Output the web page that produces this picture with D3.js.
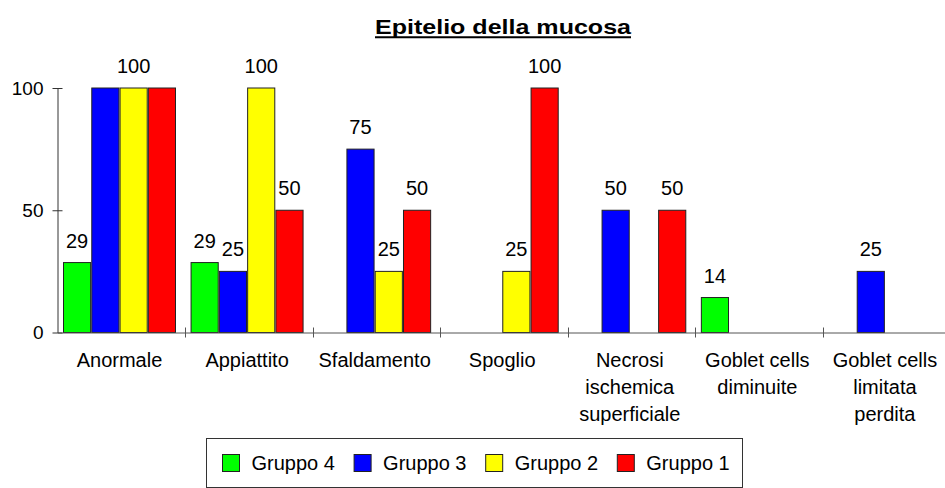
<!DOCTYPE html>
<html>
<head>
<meta charset="utf-8">
<script src="https://cdn.jsdelivr.net/npm/d3@7"></script>
<style>
	body { margin: 0; background: #fff; }
	text { font-family: Arial, "Liberation Sans", sans-serif; fill: #000; }
</style>
</head>
<body>
<div id="chart"></div>
<script>
var categories = ["Anormale", "Appiattito", "Sfaldamento", "Spoglio", "Necrosi ischemica superficiale", "Goblet cells diminuite", "Goblet cells limitata perdita"];
var categoryLines = [["Anormale"], ["Appiattito"], ["Sfaldamento"], ["Spoglio"], ["Necrosi", "ischemica", "superficiale"], ["Goblet cells", "diminuite"], ["Goblet cells", "limitata", "perdita"]];
var groups = ["Gruppo 4", "Gruppo 3", "Gruppo 2", "Gruppo 1"];
var colors = ["#00ff00", "#0000ff", "#ffff00", "#ff0000"];

var gruppo4 = [28.6, 28.6, 0, 0, 0, 14.3, 0];
var gruppo3 = [100, 25, 75, 0, 50, 0, 25];
var gruppo2 = [100, 100, 25, 25, 0, 0, 0];
var gruppo1 = [100, 50, 50, 100, 50, 0, 0];

var yTicks = [0, 50, 100];
// the original only shows one "100" above Anormale
var hiddenLabels = ["Anormale|Gruppo 3", "Anormale|Gruppo 1"];

(function() {
	var width = 945;
	var height = 488;

	var svg = d3.select("#chart")
				.append("svg")
				.attr("width", width)
				.attr("height", height)

	var series = [gruppo4, gruppo3, gruppo2, gruppo1];

	var rows = categories.map(function(c, i) {
		return {
			cat: c,
			values: groups.map(function(g, j) {
				return { cat: c, group: g, value: series[j][i] };
			})
		};
	});

	var x0 = d3.scaleBand()
			   .domain(categories)
			   .range([57.5, 950.5])

	var x1 = d3.scaleBand()
			   .domain(groups)
			   .range([6, 118])
			   .paddingInner(0.04)

	var y = d3.scaleLinear()
			  .domain([0, 100])
			  .range([332.5, 88])

	var color = d3.scaleOrdinal()
				  .domain(groups)
				  .range(colors)

	var fmt = d3.format(".0f");

	// title
	svg.append("text")
	   .attr("x", 503)
	   .attr("y", 33.5)
	   .attr("text-anchor", "middle")
	   .attr("font-size", 21)
	   .attr("font-weight", "bold")
	   .attr("textLength", 256)
	   .attr("lengthAdjust", "spacingAndGlyphs")
	   .text("Epitelio della mucosa")

	svg.append("line")
	   .attr("x1", 375)
	   .attr("x2", 631)
	   .attr("y1", 37.3)
	   .attr("y2", 37.3)
	   .attr("stroke", "#000")
	   .attr("stroke-width", 2)

	// bars
	var groupsG = svg.selectAll("g.cat")
					 .data(rows)
					 .enter()
					 .append("g")
					 .attr("class", "cat")
					 .attr("transform", function(d) { return "translate(" + x0(d.cat) + ",0)"; })

	groupsG.selectAll("rect")
		   .data(function(d) { return d.values.filter(function(v) { return v.value > 0; }); })
		   .enter()
		   .append("rect")
		   .attr("x", function(d) { return x1(d.group); })
		   .attr("y", function(d) { return y(d.value); })
		   .attr("width", x1.bandwidth())
		   .attr("height", function(d) { return y(0) - y(d.value); })
		   .attr("fill", function(d) { return color(d.group); })
		   .attr("stroke", "#222")
		   .attr("stroke-width", 1)

	groupsG.selectAll("text.val")
		   .data(function(d) {
				return d.values.filter(function(v) {
					return v.value > 0 && hiddenLabels.indexOf(v.cat + "|" + v.group) < 0;
				});
		   })
		   .enter()
		   .append("text")
		   .attr("class", "val")
		   .attr("x", function(d) { return x1(d.group) + x1.bandwidth() / 2; })
		   .attr("y", function(d) { return y(d.value) - 15; })
		   .attr("text-anchor", "middle")
		   .attr("font-size", 20)
		   .text(function(d) { return fmt(d.value); })

	// y axis
	var yAxis = d3.axisLeft(y)
				  .tickValues(yTicks)
				  .tickSizeInner(5)
				  .tickSizeOuter(0)
				  .tickPadding(9)

	var yG = svg.append("g")
				.attr("transform", "translate(57.5,0)")
				.call(yAxis)

	yG.attr("font-size", 19)
	  .attr("font-family", null)
	yG.select(".domain").attr("stroke", "#333")
	yG.selectAll(".tick line").attr("x1", 5).attr("stroke", "#333")
	yG.selectAll(".tick text").attr("fill", "#000")

	// x axis
	var xAxis = d3.axisBottom(x0)
				  .tickSize(0)
				  .tickFormat("")

	var xG = svg.append("g")
				.attr("transform", "translate(0,332.5)")
				.call(xAxis)

	xG.select(".domain").attr("stroke", "#555")

	xG.selectAll("line.sep")
	  .data(categories.slice(1))
	  .enter()
	  .append("line")
	  .attr("class", "sep")
	  .attr("x1", function(d) { return Math.round(x0(d)) + 0.5; })
	  .attr("x2", function(d) { return Math.round(x0(d)) + 0.5; })
	  .attr("y1", -5)
	  .attr("y2", 5)
	  .attr("stroke", "#555")

	var labels = svg.selectAll("text.cat")
					.data(categories)
					.enter()
					.append("text")
					.attr("class", "cat")
					.attr("text-anchor", "middle")
					.attr("font-size", 20)

	labels.selectAll("tspan")
		  .data(function(d, i) { return categoryLines[i].map(function(l) { return { cat: d, line: l }; }); })
		  .enter()
		  .append("tspan")
		  .attr("x", function(d) { return x0(d.cat) + 62; })
		  .attr("y", function(d, i) { return 366.5 + i * 27.3; })
		  .text(function(d) { return d.line; })

	// legend
	var legendX = d3.scaleBand()
					.domain(groups)
					.range([216, 216 + 4 * 131.6])

	svg.append("rect")
	   .attr("x", 206.5)
	   .attr("y", 438.5)
	   .attr("width", 536)
	   .attr("height", 49)
	   .attr("fill", "none")
	   .attr("stroke", "#333")

	var items = svg.selectAll("g.legend")
				   .data(groups)
				   .enter()
				   .append("g")
				   .attr("class", "legend")
				   .attr("transform", function(d) { return "translate(" + legendX(d) + ",0)"; })

	items.append("rect")
		 .attr("x", 6.5)
		 .attr("y", 454.5)
		 .attr("width", 17)
		 .attr("height", 17)
		 .attr("fill", function(d) { return color(d); })
		 .attr("stroke", "#222")

	items.append("text")
		 .attr("x", 35.5)
		 .attr("y", 470)
		 .attr("font-size", 20)
		 .text(function(d) { return d; })

}())
</script>
</body>
</html>
